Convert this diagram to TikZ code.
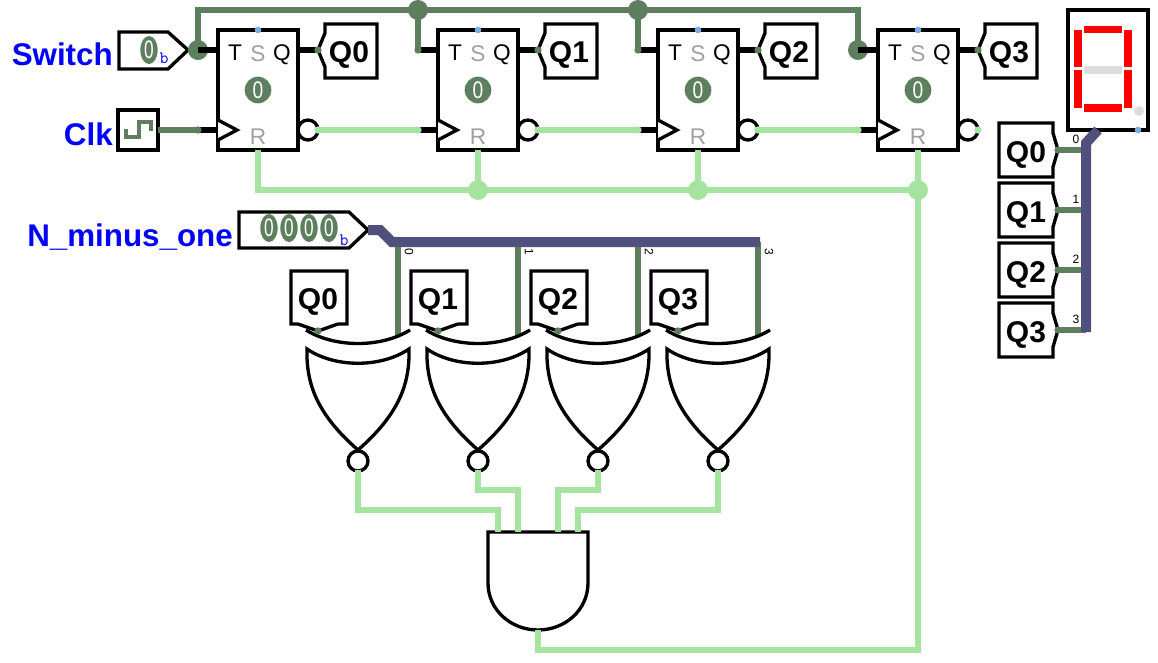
\documentclass[tikz,border=0pt]{standalone}
\usepackage{fontspec}
\setmainfont{Liberation Sans}
\usetikzlibrary{shapes.geometric}
\definecolor{dgreen}{HTML}{5E7F5E}
\definecolor{lgreen}{HTML}{A6E3A1}
\definecolor{busblue}{HTML}{50507F}
\definecolor{pinblue}{HTML}{7FAAF0}
\definecolor{labelblue}{HTML}{0000FF}
\definecolor{offgrey}{HTML}{DDDDDD}
\definecolor{sgrey}{HTML}{A0A0A0}
\newcommand{\bitzero}{\scalebox{0.68}[1]{0}}
\begin{document}
\begin{tikzpicture}[x=0.75pt,y=-0.75pt]
	\tikzstyle{ffbox}=[draw,fill=white,line width=2.5pt,minimum width=60pt,minimum height=90pt,inner sep=0pt,outer sep=0pt]
	\tikzstyle{outline}=[draw,fill=white,line width=2.5pt,line join=miter]
	\tikzstyle{bwire}=[line width=3.8pt]
	\tikzstyle{dwire}=[draw=dgreen,line width=4.5pt,line join=miter]
	\tikzstyle{lwire}=[draw=lgreen,line width=4.5pt,line join=miter]
	\tikzstyle{buswire}=[draw=busblue,line width=7.5pt,line join=miter]
	\tikzstyle{ddot}=[circle,fill=dgreen,inner sep=0pt,minimum size=5.5pt]
	\tikzstyle{ldot}=[circle,fill=lgreen,inner sep=0pt,minimum size=5.5pt]
	\tikzstyle{ljoin}=[circle,fill=lgreen,inner sep=0pt,minimum size=15pt]
	\tikzstyle{djoin}=[circle,fill=dgreen,inner sep=0pt,minimum size=15pt]
	\tikzstyle{bluedot}=[circle,fill=pinblue,inner sep=0pt,minimum size=5pt]
	\tikzstyle{bigtext}=[font=\fontsize{22.5}{24}\selectfont\bfseries,inner sep=0pt,anchor=base]
	\tikzstyle{pinname}=[font=\fontsize{23.5}{25}\selectfont\bfseries,text=labelblue,inner sep=0pt,anchor=base east]
	\tikzstyle{ffpin}=[font=\fontsize{17}{18}\selectfont,inner sep=0pt,anchor=base]
	\tikzstyle{smalltext}=[font=\fontsize{9}{10}\selectfont,inner sep=0pt]
	\tikzstyle{subb}=[font=\ttfamily\fontsize{13}{14}\selectfont,text=labelblue,inner sep=0pt]
	\tikzstyle{bitval}=[ellipse,fill=dgreen,text=white,minimum width=13pt,minimum height=21pt,inner sep=0pt,font=\fontsize{19}{20}\selectfont]
	\tikzstyle{seg}=[fill=red]
	\useasboundingbox (0,0) rectangle (1158,662);

	% counter
	\foreach \i/\x in {0/218,1/438,2/658,3/878}{
		\coordinate (tin\i) at (\x-20,50);
		\coordinate (cin\i) at (\x-20,130);
		\coordinate (qout\i) at (\x+100,50);
		\coordinate (nout\i) at (\x+100,130);
		\coordinate (rin\i) at (\x+40,150);
		\coordinate (rbus\i) at (\x+40,190);
		\draw[bwire] (tin\i) -- (\x,50);
		\draw[bwire] (cin\i) -- (\x,130);
		\draw[bwire] (\x+80,50) -- (qout\i);
		\node[ffbox](ff\i)at(\x+40,90){};
		\draw[line width=2.5pt,fill=white] (\x,120) -- (\x+19,130) -- (\x,140);
		\draw[line width=2.5pt,fill=white] (\x+90,130) circle (10);
		\node[ffpin](tl\i)at(\x+17,60){T};
		\node[ffpin,text=sgrey](sl\i)at(\x+40,61){S};
		\node[ffpin](ql\i)at(\x+64,60){Q};
		\node[ffpin,text=sgrey](rl\i)at(\x+40,144){R};
		\node[circle,fill=dgreen,text=white,minimum size=20pt,inner sep=0pt,font=\fontsize{18}{19}\selectfont](st\i)at(\x+40,90){\scalebox{0.8}[1]{0}};
		\node[bluedot](sp\i)at(\x+40,30){};
		\draw[outline] (qout\i) -- (\x+107,33) -- (\x+107,24) -- (\x+159,24) -- (\x+159,78) -- (\x+107,78) -- (\x+107,67) -- cycle;
		\node[bigtext](qt\i)at(\x+131,62){Q\i};
		\node[ddot](qd\i)at(qout\i){};
	}

	% inputs
	\draw[outline] (119,32) -- (168,32) -- (188,50) -- (168,69) -- (119,69) -- cycle;
	\node[bitval](sw)at(149,50){\bitzero};
	\node[subb](swb)at(164,58){b};
	\node[pinname](swl)at(113,65){Switch};
	\node[ffbox,minimum width=30pt,minimum height=30pt](clk)at(138,130){};
	\draw[draw=dgreen,line width=2.4pt] (126,129) -- (126,137) -- (139,137) -- (139,122) -- (151,122) -- (151,131);
	\node[pinname](clkl)at(113,145){Clk};
	\coordinate (topa) at (198,10);
	\coordinate (topb) at (418,10);
	\coordinate (topc) at (638,10);
	\coordinate (topd) at (858,10);
	\draw[dwire] (tin0) -- (topa) -- (topd) -- (tin3);
	\draw[dwire] (topb) -- (tin1);
	\draw[dwire] (topc) -- (tin2);
	\node[djoin](ja)at(tin0){};
	\node[djoin](jb)at(topb){};
	\node[djoin](jc)at(topc){};
	\node[djoin](jd)at(tin3){};
	\draw[dwire] (clk.east) -- (cin0);
	\node[ddot](cd)at(cin0){};
	\node[ddot](td)at(tin1){};
	\node[ddot](te)at(tin2){};
	\draw[bwire] (tin0) -- (218,50);
	\draw[bwire] (tin3) -- (878,50);

	% toggle chain and reset
	\foreach \i/\j in {0/1,1/2,2/3}{
		\draw[lwire] (nout\i) -- (cin\j);
		\node[ldot](cd\j)at(cin\j){};
	}
	\foreach \i in {0,1,2,3}{
		\node[ldot](nd\i)at(nout\i){};
	}
	\coordinate (andout) at (538,630);
	\coordinate (rdown) at (918,650);
	\coordinate (adown) at (538,650);
	\draw[lwire] (rin0) -- (rbus0) -- (rbus3) -- (rin3);
	\draw[lwire] (rbus1) -- (rin1);
	\draw[lwire] (rbus2) -- (rin2);
	\node[ljoin](jr1)at(rbus1){};
	\node[ljoin](jr2)at(rbus2){};
	\node[ljoin](jr3)at(rbus3){};

	% display
	\node[ffbox,minimum height=90pt](disp)at(1108,70){};
	\fill[seg] (1084,26) rectangle (1122,33);
	\fill[seg] (1074,30) rectangle (1082,67);
	\fill[seg] (1124,30) rectangle (1132,67);
	\fill[seg] (1074,70) rectangle (1082,108);
	\fill[seg] (1124,70) rectangle (1132,108);
	\fill[seg] (1084,104) rectangle (1122,112);
	\fill[offgrey] (1084,66) rectangle (1122,74);
	\node[circle,fill=offgrey,inner sep=0pt,minimum size=7.5pt](dp)at(1139,111){};
	\node[bluedot](dpin)at(1138,130){};
	\coordinate (dbusa) at (1098,130);
	\coordinate (dbusb) at (1086,143);
	\coordinate (dbusc) at (1086,332);
	\foreach \i/\y in {0/150,1/210,2/270,3/330}{
		\coordinate (tap\i) at (1086,\y);
		\coordinate (tip\i) at (1058,\y);
		\draw[outline] (tip\i) -- (1053,\y-17) -- (1053,\y-27) -- (999,\y-27) -- (999,\y+27) -- (1053,\y+27) -- (1053,\y+17) -- cycle;
		\node[bigtext](dq\i)at(1026,\y+12){Q\i};
		\draw[dwire] (tip\i) -- (tap\i);
		\node[ddot](dd\i)at(tip\i){};
		\node[smalltext](dl\i)at(1076,\y-11){\i};
	}
	\draw[buswire] (dbusa) -- (dbusb) -- (dbusc);

	% compare
	\draw[outline] (239,212) -- (349,212) -- (368,230) -- (349,248) -- (239,248) -- cycle;
	\foreach \i/\x in {0/269,1/289,2/309,3/329}{
		\node[bitval](nb\i)at(\x,228){\bitzero};
	}
	\node[subb](nbb)at(344,240){b};
	\node[pinname](nl)at(233,246){N\_minus\_one};
	\foreach \i/\x in {0/358,1/478,2/598,3/718}{
		\coordinate (bt\i) at (\x+40,242);
		\coordinate (gb\i) at (\x+40,335);
		\coordinate (gn\i) at (\x,470);
		\draw[dwire] (bt\i) -- (gb\i);
		\begin{scope}[shift={(\x,0)}]
		\draw[line width=2.5pt] (-52,330) .. controls (-23,348) and (23,348) .. (52,330);
		\draw[line width=2.5pt,fill=white] (-51,349) .. controls (-23,368) and (23,368) .. (51,349) .. controls (52,385) and (40,415) .. (0,450) .. controls (-40,415) and (-52,385) .. (-51,349) -- cycle;
		\draw[line width=2.5pt,fill=white] (0,461) circle (10);
		\end{scope}
		\node[smalltext,rotate=-90](bl\i)at(\x+51,252){\i};
		\draw[outline] (\x-67,271) -- (\x-11,271) -- (\x-11,324) -- (\x-20,324) -- (\x-40,331) -- (\x-60,324) -- (\x-67,324) -- cycle;
		\node[bigtext](gq\i)at(\x-40,309){Q\i};
		\node[ddot](gd\i)at(\x-40,331){};
	}
	\coordinate (bstart) at (368,230);
	\coordinate (bbenda) at (380,230);
	\coordinate (bbendb) at (392,242);
	\coordinate (bend) at (760,242);
	\draw[buswire] (bstart) -- (bbenda) -- (bbendb) -- (bend);

	% and gate
	\draw[outline] (488,532) -- (588,532) -- (588,583) .. controls (588,610) and (565,630) .. (538,630) .. controls (511,630) and (488,610) .. (488,583) -- cycle;
	\coordinate (aa) at (498,532);
	\coordinate (ab) at (518,532);
	\coordinate (ac) at (558,532);
	\coordinate (ad) at (578,532);
	\draw[lwire] (gn0) |- (498,510) -- (aa);
	\draw[lwire] (gn1) |- (518,490) -- (ab);
	\draw[lwire] (gn2) |- (558,490) -- (ac);
	\draw[lwire] (gn3) |- (578,510) -- (ad);
	\draw[lwire] (rbus3) -- (rdown) -- (adown) -- (andout);
\end{tikzpicture}
\end{document}
